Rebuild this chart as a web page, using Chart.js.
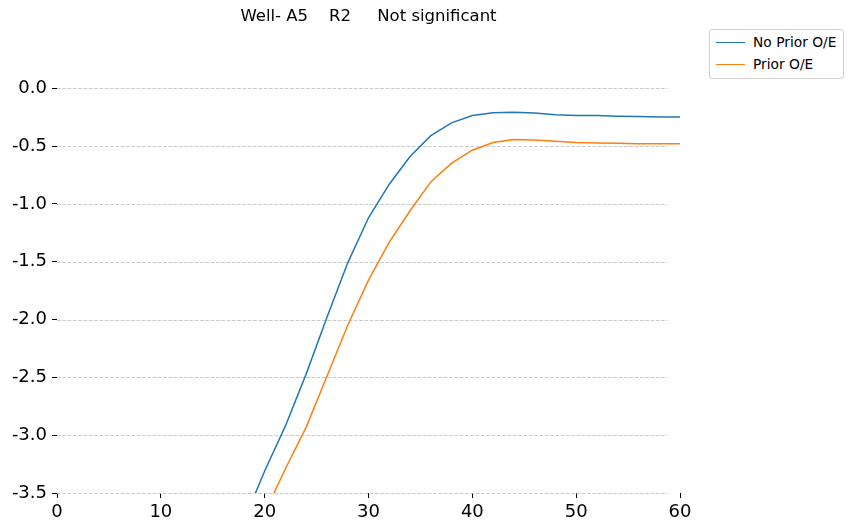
<!DOCTYPE html>
<html>
<head>
<meta charset="utf-8">
<script src="https://cdn.jsdelivr.net/npm/chart.js@4.4.1/dist/chart.umd.min.js"></script>
<style>
  html, body { margin: 0; padding: 0; background: #fff; }
  #wrap { position: relative; width: 852px; height: 531px; }
  #legend {
    position: absolute; left: 709px; top: 29px; width: 133px;
    border: 1px solid #d0d0d0; border-radius: 3px; background: #fff;
    font-family: "DejaVu Sans", sans-serif; font-size: 13.8px; color: #000;
    padding: 1px 0 3px 0;
  }
  #legend .item { display: flex; align-items: center; height: 22px; }
  #legend .swatch { width: 29px; height: 0; margin: 0 8px 0 6px; border-top-width: 1.5px; border-top-style: solid; }
</style>
</head>
<body>
<div id="wrap">
  <canvas id="wellChart" width="852" height="531"></canvas>
  <div id="legend"></div>
</div>
<script>
var xValues = [18, 20, 22, 24, 26, 28, 30, 32, 34, 36, 38, 40, 42, 44, 46, 48, 50, 52, 54, 56, 58, 60];
var noPriorOE = [-3.74, -3.31, -2.92, -2.47, -1.98, -1.51, -1.12, -0.83, -0.59, -0.41, -0.30, -0.237, -0.213, -0.207, -0.215, -0.23, -0.237, -0.237, -0.242, -0.245, -0.248, -0.248];
var priorOE = [-4.1, -3.67, -3.29, -2.93, -2.49, -2.05, -1.66, -1.33, -1.06, -0.81, -0.648, -0.536, -0.47, -0.444, -0.447, -0.458, -0.47, -0.473, -0.476, -0.48, -0.48, -0.48];
var seriesLabels = ['No Prior O/E', 'Prior O/E'];
var seriesColors = ['#1f77b4', '#ff7f0e'];
var yTicks = [-3.5, -3.0, -2.5, -2.0, -1.5, -1.0, -0.5, 0.0];
var xTicks = [0, 10, 20, 30, 40, 50, 60];
var gridEndX = 58.8;

function toPoints(values) {
  return values.map(function (v, i) { return { x: xValues[i], y: v }; });
}

// horizontal dashed grid lines that stop a little short of the right end
var shortGrid = {
  id: 'shortGrid',
  beforeDatasetsDraw: function (chart) {
    var ctx = chart.ctx;
    var xs = chart.scales.x;
    var ys = chart.scales.y;
    var x0 = chart.chartArea.left;
    var x1 = xs.getPixelForValue(gridEndX);
    ctx.save();
    ctx.strokeStyle = '#bdbdbd';
    ctx.lineWidth = 0.8;
    ctx.setLineDash([3.7, 1.6]);
    yTicks.forEach(function (v) {
      var y = Math.round(ys.getPixelForValue(v)) + 0.5;
      ctx.beginPath();
      ctx.moveTo(x0, y);
      ctx.lineTo(x1, y);
      ctx.stroke();
    });
    ctx.restore();
  },
};

var tickFont = { family: 'DejaVu Sans', size: 18 };

var chart = new Chart(document.getElementById('wellChart'), {
  type: 'line',
  data: {
    datasets: [
      { label: seriesLabels[0], data: toPoints(noPriorOE), borderColor: seriesColors[0], borderWidth: 1.5, pointRadius: 0, tension: 0 },
      { label: seriesLabels[1], data: toPoints(priorOE), borderColor: seriesColors[1], borderWidth: 1.5, pointRadius: 0, tension: 0 },
    ],
  },
  options: {
    responsive: false,
    animation: false,
    layout: { padding: { left: 0, right: 172, top: 0, bottom: 0 } },
    plugins: {
      legend: { display: false },
      tooltip: { enabled: false },
      title: {
        display: true,
        fullSize: false,
        text: 'Well- A5    R2     Not significant',
        color: '#000',
        font: { family: 'DejaVu Sans', size: 16.5, weight: 'normal', lineHeight: 1.1 },
        padding: { top: 8, bottom: 10 },
      },
    },
    scales: {
      x: {
        type: 'linear',
        min: 0,
        max: 60,
        afterBuildTicks: function (scale) { scale.ticks = xTicks.map(function (v) { return { value: v }; }); },
        afterFit: function (scale) { scale.height = 38; },
        border: { display: false },
        grid: { drawOnChartArea: false, drawTicks: true, tickLength: 5, tickColor: '#000', tickWidth: 1 },
        ticks: { color: '#000', font: tickFont, padding: 4, maxRotation: 0 },
      },
      y: {
        type: 'linear',
        min: -3.5,
        max: 0.45,
        afterBuildTicks: function (scale) { scale.ticks = yTicks.map(function (v) { return { value: v }; }); },
        afterFit: function (scale) { scale.width = 57; },
        border: { display: false },
        grid: {
          drawOnChartArea: false,
          drawTicks: true, tickLength: 5, tickColor: '#000', tickWidth: 1,
        },
        ticks: {
          color: '#000', font: tickFont, padding: 5,
          callback: function (v) { return v.toFixed(1); },
        },
      },
    },
  },
  plugins: [shortGrid],
});

var legendEl = document.getElementById('legend');
chart.data.datasets.forEach(function (ds) {
  var item = document.createElement('div');
  item.className = 'item';
  var sw = document.createElement('span');
  sw.className = 'swatch';
  sw.style.borderTopColor = ds.borderColor;
  var txt = document.createElement('span');
  txt.textContent = ds.label;
  item.appendChild(sw);
  item.appendChild(txt);
  legendEl.appendChild(item);
});
</script>
</body>
</html>
